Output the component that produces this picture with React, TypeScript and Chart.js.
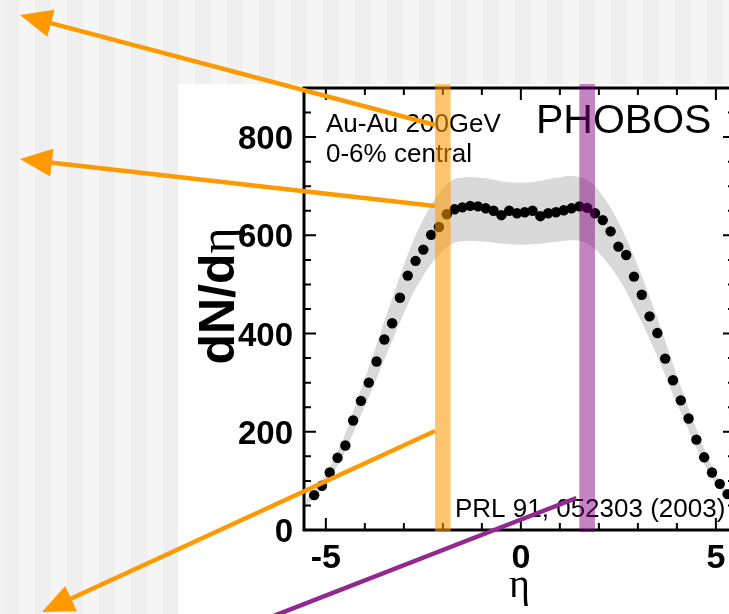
import React, { useEffect, useRef } from "react";
import { Chart, registerables } from "chart.js";

Chart.register(...registerables);

// ---------- data ----------
const etaBins = [
  -5.3, -5.1, -4.9, -4.7, -4.5, -4.3, -4.1, -3.9, -3.7, -3.5, -3.3, -3.1, -2.9, -2.7, -2.5, -2.3, -2.1, -1.9,
  -1.7, -1.5, -1.3, -1.1, -0.9, -0.7, -0.5, -0.3, -0.1, 0.1, 0.3, 0.5, 0.7, 0.9, 1.1, 1.3, 1.5, 1.7,
  1.9, 2.1, 2.3, 2.5, 2.7, 2.9, 3.1, 3.3, 3.5, 3.7, 3.9, 4.1, 4.3, 4.5, 4.7, 4.9, 5.1, 5.3,
];
const dNdEta = [
  71, 90, 117, 147, 172, 223, 263, 300, 343, 388, 421, 473, 518, 548, 571, 601, 617, 643,
  653, 657, 660, 659, 655, 650, 641, 650, 645, 647, 650, 639, 645, 647, 651, 655, 659, 656,
  645, 631, 608, 577, 560, 516, 479, 435, 401, 349, 305, 264, 227, 184, 148, 117, 94, 73,
];

// systematic-error band (upper / lower edge), read from the grey area
const bandEta = [
  -5.5, -5.3, -5.1, -4.9, -4.7, -4.5, -4.3, -4.1, -3.9, -3.7, -3.5, -3.3, -3.1, -2.9, -2.7, -2.5, -2.3, -2.1, -1.9,
  -1.7, -1.5, -1.3, -1.1, -0.9, -0.7, -0.5, -0.3, -0.1, 0.1, 0.3, 0.5, 0.7, 0.9, 1.1, 1.3, 1.5, 1.7,
  1.9, 2.1, 2.3, 2.5, 2.7, 2.9, 3.1, 3.3, 3.5, 3.7, 3.9, 4.1, 4.3, 4.5, 4.7, 4.9, 5.1, 5.3, 5.5,
];
const bandUpper = [
  62, 80, 101, 129, 160, 196, 242, 286, 330, 377, 425, 471, 517, 561, 600, 633, 662, 685, 704,
  715, 718, 719, 718, 716, 713, 710, 708, 707, 707, 708, 711, 714, 717, 720, 721, 719, 712,
  700, 680, 656, 627, 594, 557, 517, 475, 431, 385, 338, 292, 248, 205, 165, 130, 102, 79, 62,
];
const bandLower = [
  50, 65, 83, 105, 131, 160, 198, 234, 270, 309, 347, 385, 423, 459, 491, 518, 542, 561, 576,
  585, 588, 589, 588, 587, 585, 583, 582, 581, 581, 582, 583, 585, 587, 589, 590, 589, 583,
  572, 556, 536, 513, 486, 455, 423, 389, 353, 315, 276, 239, 203, 167, 135, 106, 84, 65, 50,
];

const xTickValues = [-5, 0, 5];
const xTickLabels = ["-5", "0", "5"];
const yTickValues = [0, 200, 400, 600, 800];
const yTickLabels = ["0", "200", "400", "600", "800"];
const xMinorTicks = [-5, -4, -3, -2, -1, 0, 1, 2, 3, 4, 5];
const yMinorTicks = [0, 50, 100, 150, 200, 250, 300, 350, 400, 450, 500, 550, 600, 650, 700, 750, 800, 850];

const X_MIN = -5.56;
const X_MAX = 5.49;
const Y_MIN = 0;
const Y_MAX = 900;

// highlighted eta windows
const orangeWindow = [-2.2, -1.8];
const purpleWindow = [1.5, 1.9];

const annotationLines = ["Au-Au 200GeV", "0-6% central"];
const experimentLabel = "PHOBOS";
const referenceLabel = "PRL 91, 052303 (2003)";
const yTitleMain = "dN/d";
const yTitleGreek = "η";
const xTitle = "η";

const ORANGE = "#ff9900";
const PURPLE = "#922890";

function arrow(
  ctx: CanvasRenderingContext2D,
  x1: number, y1: number, x2: number, y2: number,
  color: string, width: number, head: boolean
) {
  const ang = Math.atan2(y2 - y1, x2 - x1);
  const hl = 32, hw = 14;
  const ex = head ? x2 - Math.cos(ang) * (hl - 4) : x2;
  const ey = head ? y2 - Math.sin(ang) * (hl - 4) : y2;
  ctx.save();
  ctx.strokeStyle = color;
  ctx.lineWidth = width;
  ctx.lineCap = "butt";
  ctx.beginPath();
  ctx.moveTo(x1, y1);
  ctx.lineTo(ex, ey);
  ctx.stroke();
  if (head) {
    ctx.fillStyle = color;
    const bx = x2 - Math.cos(ang) * hl;
    const by = y2 - Math.sin(ang) * hl;
    ctx.beginPath();
    ctx.moveTo(x2, y2);
    ctx.lineTo(bx + Math.sin(ang) * hw, by - Math.cos(ang) * hw);
    ctx.lineTo(bx - Math.sin(ang) * hw, by + Math.cos(ang) * hw);
    ctx.closePath();
    ctx.fill();
  }
  ctx.restore();
}

const slidePlugin = {
  id: "slidePlugin",
  beforeDraw(chart: any) {
    const ctx: CanvasRenderingContext2D = chart.ctx;
    const W = chart.width, H = chart.height;
    ctx.save();
    ctx.fillStyle = "#f3f3f3";
    ctx.fillRect(0, 0, W, H);
    for (let x = 3, i = 0; x < W; x += 16, i++) {
      ctx.fillStyle = i % 2 === 0 ? "#efefef" : "#f5f5f5";
      ctx.fillRect(x, 0, 16, H);
    }
    ctx.fillStyle = "#ffffff";
    ctx.fillRect(178, 84, W - 178, H - 84);
    ctx.restore();
  },
  afterDatasetsDraw(chart: any) {
    const ctx: CanvasRenderingContext2D = chart.ctx;
    const xs = chart.scales.x, ys = chart.scales.y;
    const { left, right, top, bottom } = chart.chartArea;
    ctx.save();
    // ticks
    ctx.strokeStyle = "#000";
    ctx.lineWidth = 2;
    ctx.beginPath();
    for (const v of xMinorTicks) {
      const px = xs.getPixelForValue(v);
      const len = xTickValues.includes(v) ? 12 : 7;
      ctx.moveTo(px, bottom); ctx.lineTo(px, bottom - len);
      ctx.moveTo(px, top); ctx.lineTo(px, top + len);
    }
    for (const v of yMinorTicks) {
      const py = ys.getPixelForValue(v);
      const len = yTickValues.includes(v) ? 12 : 7;
      ctx.moveTo(left, py); ctx.lineTo(left + len, py);
      ctx.moveTo(right, py); ctx.lineTo(right - len, py);
    }
    ctx.stroke();
    // frame
    ctx.lineWidth = 3;
    ctx.strokeRect(left, top, right - left, bottom - top);

    // texts
    ctx.fillStyle = "#000";
    ctx.textBaseline = "alphabetic";
    ctx.textAlign = "left";
    ctx.font = '26px "Liberation Sans", Arial, sans-serif';
    ctx.fillText(annotationLines[0], 326, 132);
    ctx.fillText(annotationLines[1], 326, 162);
    ctx.fillText(referenceLabel, 455, 517);
    ctx.font = '41px "Liberation Sans", Arial, sans-serif';
    ctx.fillText(experimentLabel, 536, 133);

    // y title
    ctx.save();
    ctx.translate(234, 296);
    ctx.rotate(-Math.PI / 2);
    ctx.font = 'bold 50px "Liberation Sans", Arial, sans-serif';
    const w1 = ctx.measureText(yTitleMain).width;
    ctx.font = '50px "Liberation Serif", serif';
    const w2 = ctx.measureText(yTitleGreek).width;
    const start = -(w1 + w2) / 2;
    ctx.font = 'bold 50px "Liberation Sans", Arial, sans-serif';
    ctx.fillText(yTitleMain, start, 0);
    ctx.font = '50px "Liberation Serif", serif';
    ctx.fillText(yTitleGreek, start + w1, 0);
    ctx.restore();

    // highlighted windows
    const ox1 = xs.getPixelForValue(orangeWindow[0]);
    const ox2 = xs.getPixelForValue(orangeWindow[1]);
    ctx.fillStyle = "rgba(255,153,0,0.57)";
    ctx.fillRect(ox1, top - 4, ox2 - ox1, bottom - top + 6);
    const px1 = xs.getPixelForValue(purpleWindow[0]);
    const px2 = xs.getPixelForValue(purpleWindow[1]);
    ctx.fillStyle = "rgba(128,0,128,0.48)";
    ctx.fillRect(px1, top - 4, px2 - px1, bottom - top + 6);

    // arrows
    arrow(ctx, ox1, 125, 20, 15, ORANGE, 4.5, true);
    arrow(ctx, ox1, 206, 20, 159, ORANGE, 4.5, true);
    arrow(ctx, ox1, 431, 42, 612, ORANGE, 4.5, true);
    arrow(ctx, px1 - 3, 498, 258, 622, PURPLE, 4.5, false);
    ctx.restore();
  },
};

export default function App() {
  const ref = useRef<HTMLCanvasElement | null>(null);
  useEffect(() => {
    if (!ref.current) return;
    const points = etaBins.map((e, i) => ({ x: e, y: dNdEta[i] }));
    const upper = bandEta.map((e, i) => ({ x: e, y: bandUpper[i] }));
    const lower = bandEta.map((e, i) => ({ x: e, y: bandLower[i] }));
    const chart = new Chart(ref.current, {
      type: "line",
      data: {
        datasets: [
          {
            label: "dN/dη",
            data: points,
            showLine: false,
            pointRadius: 5.2,
            pointBackgroundColor: "#000",
            pointBorderWidth: 0,
            borderColor: "#000",
          },
          {
            label: "upper",
            data: upper,
            borderWidth: 0,
            pointRadius: 0,
            borderColor: "rgba(0,0,0,0)",
            backgroundColor: "#d9d9d9",
            fill: "+1",
            cubicInterpolationMode: "monotone",
          },
          {
            label: "lower",
            data: lower,
            borderWidth: 0,
            pointRadius: 0,
            borderColor: "rgba(0,0,0,0)",
            fill: false,
            cubicInterpolationMode: "monotone",
          },
        ],
      },
      options: {
        animation: false,
        responsive: false,
        devicePixelRatio: 1,
        layout: { padding: { left: 0, top: 88, right: 25, bottom: 0 } },
        plugins: { legend: { display: false }, tooltip: { enabled: false } },
        scales: {
          x: {
            type: "linear",
            min: X_MIN,
            max: X_MAX,
            grid: { display: false, drawTicks: false },
            border: { display: false },
            afterBuildTicks: (s: any) => {
              s.ticks = xTickValues.map((v) => ({ value: v }));
            },
            afterFit: (s: any) => {
              s.height = 84;
            },
            ticks: {
              color: "#000",
              padding: 8,
              maxRotation: 0,
              font: { family: '"Liberation Sans", Arial, sans-serif', size: 34, weight: "bold" },
              callback: (v: any) => xTickLabels[xTickValues.indexOf(Number(v))] ?? "",
            },
            title: {
              display: true,
              text: xTitle,
              color: "#000",
              font: { family: '"Liberation Serif", serif', size: 40, lineHeight: 1 },
              padding: { top: 0, bottom: 8 },
            },
          },
          y: {
            type: "linear",
            min: Y_MIN,
            max: Y_MAX,
            grid: { display: false, drawTicks: false },
            border: { display: false },
            afterBuildTicks: (s: any) => {
              s.ticks = yTickValues.map((v) => ({ value: v }));
            },
            afterFit: (s: any) => {
              s.width = 304;
            },
            ticks: {
              color: "#000",
              padding: 11,
              labelOffset: 3,
              font: { family: '"Liberation Sans", Arial, sans-serif', size: 33, weight: "bold" },
              callback: (v: any) => yTickLabels[yTickValues.indexOf(Number(v))] ?? "",
            },
          },
        },
      },
      plugins: [slidePlugin],
    } as any);
    return () => chart.destroy();
  }, []);
  return (
    <div style={{ position: "fixed", left: 0, top: 0, width: 729, height: 614, overflow: "hidden", background: "#f3f3f3" }}>
      <canvas ref={ref} width={760} height={614} style={{ display: "block", width: 760, height: 614 }} />
    </div>
  );
}
